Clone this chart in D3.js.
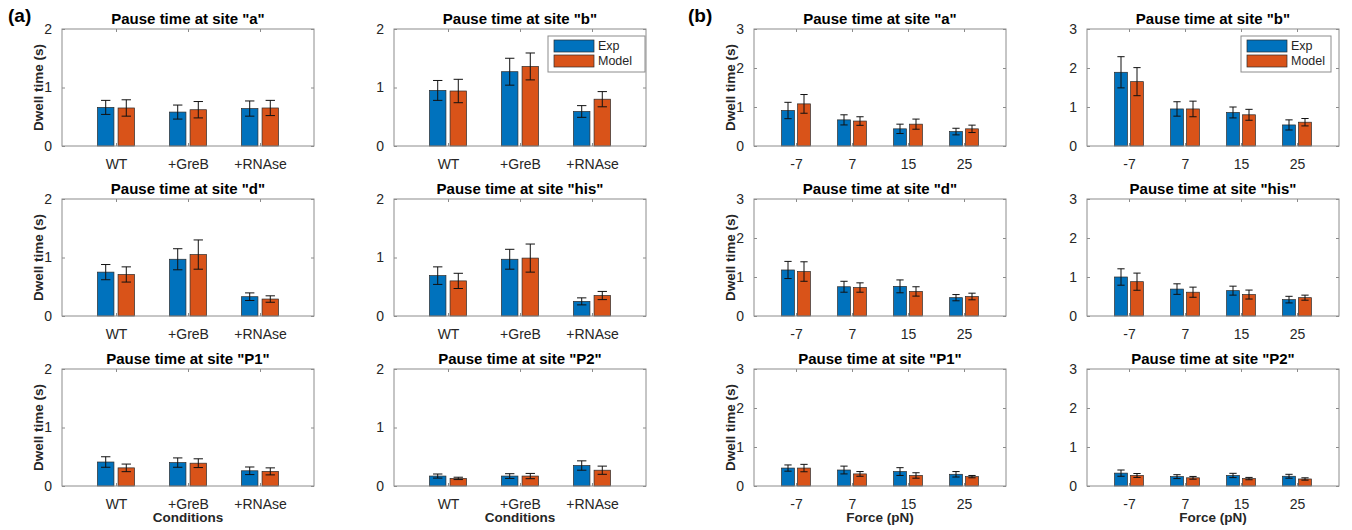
<!DOCTYPE html>
<html>
<head>
<meta charset="utf-8">
<script src="https://cdn.jsdelivr.net/npm/d3@7"></script>
<style>
  body { margin: 0; background: #fff; }
  svg { display: block; font-family: "Liberation Sans", Arial, Helvetica, sans-serif; }
</style>
</head>
<body>
<svg id="chart" width="1352" height="530"></svg>
<script>
// ---- data ----
const sites = ["a", "b", "d", "his", "P1", "P2"];
const conditions = ["WT", "+GreB", "+RNAse"];
const forces = ["-7", "7", "15", "25"];
const seriesNames = ["Exp", "Model"];

// panel (a): dwell time vs condition, one row per site
const condExp = [
  [0.66, 0.58, 0.64], [0.95, 1.27, 0.59], [0.75, 0.97, 0.33],
  [0.69, 0.97, 0.25], [0.41, 0.40, 0.26], [0.17, 0.17, 0.35]
];
const condExpErr = [
  [0.12, 0.12, 0.13], [0.17, 0.23, 0.10], [0.13, 0.18, 0.065],
  [0.15, 0.17, 0.06], [0.09, 0.08, 0.065], [0.035, 0.04, 0.08]
];
const condModel = [
  [0.65, 0.62, 0.65], [0.94, 1.36, 0.80], [0.71, 1.05, 0.29],
  [0.60, 0.99, 0.35], [0.31, 0.39, 0.25], [0.13, 0.17, 0.27]
];
const condModelErr = [
  [0.14, 0.14, 0.13], [0.20, 0.23, 0.13], [0.13, 0.25, 0.055],
  [0.13, 0.24, 0.07], [0.065, 0.075, 0.06], [0.02, 0.045, 0.07]
];

// panel (b): dwell time vs force
const forceExp = [
  [0.91, 0.67, 0.44, 0.37], [1.89, 0.95, 0.86, 0.54], [1.18, 0.75, 0.76, 0.47],
  [1.00, 0.69, 0.65, 0.42], [0.46, 0.41, 0.37, 0.30], [0.33, 0.24, 0.27, 0.25]
];
const forceExpErr = [
  [0.21, 0.13, 0.12, 0.085], [0.40, 0.185, 0.14, 0.13], [0.22, 0.14, 0.165, 0.08],
  [0.21, 0.135, 0.115, 0.085], [0.08, 0.10, 0.10, 0.07], [0.08, 0.05, 0.055, 0.05]
];
const forceModel = [
  [1.08, 0.64, 0.56, 0.44], [1.65, 0.95, 0.80, 0.61], [1.14, 0.73, 0.63, 0.50],
  [0.88, 0.61, 0.55, 0.47], [0.46, 0.31, 0.27, 0.24], [0.27, 0.21, 0.19, 0.18]
];
const forceModelErr = [
  [0.24, 0.11, 0.13, 0.095], [0.36, 0.20, 0.14, 0.095], [0.25, 0.12, 0.12, 0.085],
  [0.22, 0.13, 0.115, 0.065], [0.095, 0.06, 0.07, 0.03], [0.05, 0.035, 0.03, 0.03]
];

// ---- layout ----
const colors = ["#0072BD", "#D95319"];
const axisGray = "#8c8c8c";
const textCol = "#262626";
const W = 252, H = 117;
const rowTops = [29, 199, 369];

const svg = d3.select("#chart");

const groups = [
  { tag: "(a)", tagX: 8, cols: [62, 394], cats: conditions, yMax: 2,
    exp: condExp, expErr: condExpErr, model: condModel, modelErr: condModelErr,
    xlabel: "Conditions", legendW: 97 },
  { tag: "(b)", tagX: 688, cols: [754, 1087], cats: forces, yMax: 3,
    exp: forceExp, expErr: forceExpErr, model: forceModel, modelErr: forceModelErr,
    xlabel: "Force (pN)", legendW: 90 }
];

groups.forEach(grp => {
  svg.append("text")
    .attr("x", grp.tagX).attr("y", 22)
    .attr("font-size", 19).attr("font-weight", "bold").attr("fill", "#000")
    .text(grp.tag);

  sites.forEach((site, i) => {
    const col = i % 2, row = Math.floor(i / 2);
    const left = grp.cols[col], top = rowTops[row];
    drawPanel(grp, i, site, left, top, col === 0, row === 2, i === 1);
  });
});

function drawPanel(grp, i, site, left, top, showYLabel, showXLabel, showLegend) {
  const n = grp.cats.length;
  const g = svg.append("g").attr("transform", `translate(${left},${top})`);
  const x = d3.scaleLinear().domain([0.25, n + 0.75]).range([0, W]);
  const y = d3.scaleLinear().domain([0, grp.yMax]).range([H, 0]);

  // MATLAB style grouped bars: group width 2/(2+1.5), bar width 0.8 of slot
  const groupW = Math.min(0.8, 2 / 3.5);
  const barW = 0.8 * groupW / 2;
  const offs = [-groupW / 4, groupW / 4];
  const capHalf = 0.065;

  const series = [
    { vals: grp.exp[i], errs: grp.expErr[i] },
    { vals: grp.model[i], errs: grp.modelErr[i] }
  ];

  series.forEach((s, k) => {
    const data = s.vals.map((v, j) => ({ pos: j + 1 + offs[k], v, e: s.errs[j] }));
    g.selectAll(null).data(data).enter().append("rect")
      .attr("x", d => x(d.pos - barW / 2))
      .attr("y", d => y(d.v))
      .attr("width", d => x(d.pos + barW / 2) - x(d.pos - barW / 2))
      .attr("height", d => y(0) - y(d.v))
      .attr("fill", colors[k])
      .attr("stroke", "#2b2b2b").attr("stroke-width", 0.7);

    const eb = g.selectAll(null).data(data).enter().append("g")
      .attr("stroke", "#111").attr("stroke-width", 1).attr("fill", "none");
    eb.append("line")
      .attr("x1", d => x(d.pos)).attr("x2", d => x(d.pos))
      .attr("y1", d => y(d.v - d.e)).attr("y2", d => y(d.v + d.e));
    eb.append("line")
      .attr("x1", d => x(d.pos - capHalf)).attr("x2", d => x(d.pos + capHalf))
      .attr("y1", d => y(d.v + d.e)).attr("y2", d => y(d.v + d.e));
    eb.append("line")
      .attr("x1", d => x(d.pos - capHalf)).attr("x2", d => x(d.pos + capHalf))
      .attr("y1", d => y(d.v - d.e)).attr("y2", d => y(d.v - d.e));
  });

  // axes (ticks inward, box around)
  const yTicks = d3.range(0, grp.yMax + 1);
  const tickLen = 3;
  const xTickVals = d3.range(1, n + 1);

  const yAxisL = d3.axisLeft(y).tickValues(yTicks).tickFormat(d3.format("d"))
    .tickSizeInner(-tickLen).tickSizeOuter(0).tickPadding(7 + tickLen);
  const gyL = g.append("g").call(yAxisL);
  const yAxisR = d3.axisRight(y).tickValues(yTicks).tickFormat("")
    .tickSizeInner(-tickLen).tickSizeOuter(0);
  const gyR = g.append("g").attr("transform", `translate(${W},0)`).call(yAxisR);

  const xAxisB = d3.axisBottom(x).tickValues(xTickVals)
    .tickFormat(d => grp.cats[d - 1])
    .tickSizeInner(-tickLen).tickSizeOuter(0).tickPadding(10 + tickLen);
  const gxB = g.append("g").attr("transform", `translate(0,${H})`).call(xAxisB);
  const xAxisT = d3.axisTop(x).tickValues(xTickVals).tickFormat("")
    .tickSizeInner(-tickLen).tickSizeOuter(0);
  const gxT = g.append("g").call(xAxisT);

  [gyL, gyR, gxB, gxT].forEach(a => {
    a.attr("font-family", null).attr("font-size", null);
    a.select(".domain").remove();
    a.selectAll(".tick line").attr("stroke", axisGray);
    a.selectAll(".tick text").attr("fill", textCol).attr("font-size", 14);
  });

  g.append("rect")
    .attr("x", 0).attr("y", 0).attr("width", W).attr("height", H)
    .attr("fill", "none").attr("stroke", axisGray).attr("stroke-width", 1);

  // title
  g.append("text")
    .attr("x", W / 2).attr("y", -5)
    .attr("text-anchor", "middle")
    .attr("font-size", 15).attr("font-weight", "bold").attr("fill", "#000")
    .text(`Pause time at site "${site}"`);

  if (showYLabel) {
    g.append("text")
      .attr("transform", `translate(-19,${H / 2}) rotate(-90)`)
      .attr("text-anchor", "middle")
      .attr("font-size", 13.5).attr("font-weight", "bold").attr("fill", textCol)
      .text("Dwell time (s)");
  }
  if (showXLabel) {
    g.append("text")
      .attr("x", W / 2).attr("y", H + 36)
      .attr("text-anchor", "middle")
      .attr("font-size", 13.5).attr("font-weight", "bold").attr("fill", textCol)
      .text(grp.xlabel);
  }

  if (showLegend) {
    const lg = g.append("g").attr("transform", `translate(${154},7)`);
    lg.append("rect")
      .attr("width", grp.legendW).attr("height", 36)
      .attr("fill", "#fff").attr("stroke", axisGray).attr("stroke-width", 1);
    seriesNames.forEach((name, k) => {
      lg.append("rect")
        .attr("x", 6).attr("y", 4 + k * 15)
        .attr("width", 40).attr("height", 12)
        .attr("fill", colors[k]).attr("stroke", "#2b2b2b").attr("stroke-width", 0.7);
      lg.append("text")
        .attr("x", 50).attr("y", 10 + k * 15)
        .attr("dy", "0.35em")
        .attr("font-size", 12.5).attr("fill", textCol)
        .text(name);
    });
  }
}
</script>
</body>
</html>
